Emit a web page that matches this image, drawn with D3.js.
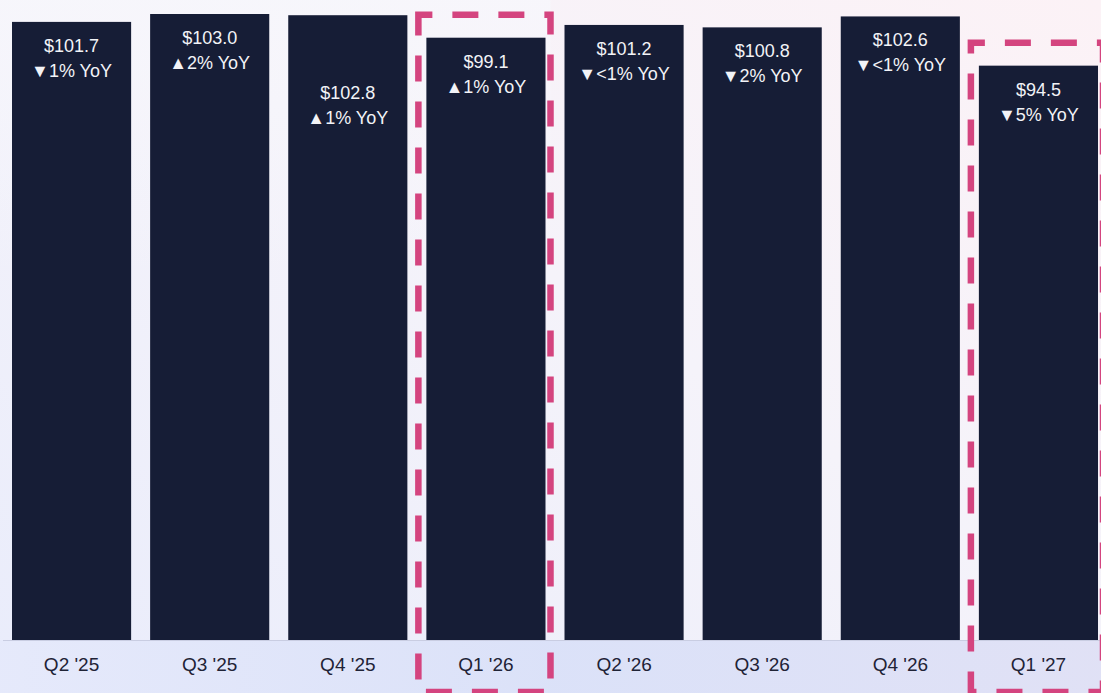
<!DOCTYPE html>
<html>
<head>
<meta charset="utf-8">
<script src="https://cdn.jsdelivr.net/npm/d3@7"></script>
<style>
  html, body { margin: 0; padding: 0; overflow: hidden; }
  svg { display: block; }
</style>
</head>
<body>
<script>
const quarters = ["Q2 '25", "Q3 '25", "Q4 '25", "Q1 '26", "Q2 '26", "Q3 '26", "Q4 '26", "Q1 '27"];
const revenue = [101.7, 103.0, 102.8, 99.1, 101.2, 100.8, 102.6, 94.5];
const yoyLabels = ["▼1% YoY", "▲2% YoY", "▲1% YoY", "▲1% YoY", "▼<1% YoY", "▼2% YoY", "▼<1% YoY", "▼5% YoY"];
const highlighted = ["Q1 '26", "Q1 '27"];

const W = 1101, H = 693;
const data = quarters.map((q, i) => ({ q, v: revenue[i], yoy: yoyLabels[i] }));

const svg = d3.select("body").append("svg").attr("width", W).attr("height", H);
const defs = svg.append("defs");

const bg = defs.append("linearGradient").attr("id", "bg")
  .attr("x1", "100%").attr("y1", "0%").attr("x2", "0%").attr("y2", "100%");
bg.append("stop").attr("offset", "0%").attr("stop-color", "#fcf2f6");
bg.append("stop").attr("offset", "45%").attr("stop-color", "#f5f3fa");
bg.append("stop").attr("offset", "100%").attr("stop-color", "#e9ecfb");

const bg2 = defs.append("linearGradient").attr("id", "bg2")
  .attr("x1", "0%").attr("y1", "0%").attr("x2", "0%").attr("y2", "100%");
bg2.append("stop").attr("offset", "0%").attr("stop-color", "#f7f7fc").attr("stop-opacity", 0.8);
bg2.append("stop").attr("offset", "100%").attr("stop-color", "#f7f7fc").attr("stop-opacity", 0);

const strip = defs.append("linearGradient").attr("id", "strip")
  .attr("x1", "0%").attr("y1", "0%").attr("x2", "100%").attr("y2", "0%");
strip.append("stop").attr("offset", "0%").attr("stop-color", "#e5e9fb");
strip.append("stop").attr("offset", "50%").attr("stop-color", "#d9e0f8");
strip.append("stop").attr("offset", "100%").attr("stop-color", "#dedff5");

svg.append("rect").attr("width", W).attr("height", H).attr("fill", "url(#bg)");
svg.append("rect").attr("width", W * 0.5).attr("height", H * 0.4).attr("fill", "url(#bg2)");

const baseY = 640;
const x = d3.scaleBand().domain(quarters).range([12, 1098]).paddingInner(0.1376).paddingOuter(0);
const y = d3.scaleLinear().domain([0, 103]).range([baseY, 14]);

// bottom strip
svg.append("rect").attr("x", 0).attr("y", baseY).attr("width", W).attr("height", H - baseY)
  .attr("fill", "url(#strip)").attr("opacity", 0.9);

// baseline
svg.append("line").attr("x1", 3).attr("x2", W).attr("y1", baseY + 0.5).attr("y2", baseY + 0.5)
  .attr("stroke", "#c9cde2").attr("stroke-width", 1.2);

// bars
svg.append("g").selectAll("rect").data(data).join("rect")
  .attr("x", d => x(d.q)).attr("y", d => y(d.v))
  .attr("width", x.bandwidth()).attr("height", d => y(0) - y(d.v))
  .attr("fill", "#161d36");

// value labels
const lbl = svg.append("g").attr("font-family", "'Liberation Sans', Arial, sans-serif")
  .attr("font-size", 18).attr("fill", "#f2f3f7").attr("text-anchor", "middle");
data.forEach(d => {
  const drop = d.q === "Q4 '25" ? 54 : 0;
  const cx = x(d.q) + x.bandwidth() / 2;
  const top = y(d.v) + drop;
  lbl.append("text").attr("x", cx).attr("y", top + 30).text("$" + d.v.toFixed(1));
  lbl.append("text").attr("x", cx).attr("y", top + 55).text(d.yoy);
});

// x axis labels
const xAxis = d3.axisBottom(x).tickSize(0).tickPadding(0);
const ax = svg.append("g").attr("transform", `translate(0,${baseY})`).call(xAxis);
ax.select(".domain").remove();
ax.selectAll("text").attr("font-family", "'Liberation Sans', Arial, sans-serif")
  .attr("font-size", 19).attr("fill", "#1f2336").attr("dy", 0).attr("y", 31);

// dashed highlight boxes
svg.append("g").selectAll("path").data(data.filter(d => highlighted.includes(d.q))).join("path")
  .attr("d", d => {
    const x0 = x(d.q) - 8, x1 = x(d.q) + x.bandwidth() + 5;
    const y0 = y(d.v) - 23, y1 = 692;
    return `M${x0},${y0}H${x1}V${y1}H${x0}Z`;
  })
  .attr("fill", "none").attr("stroke", "#d4447f").attr("stroke-width", 6.5)
  .attr("stroke-dasharray", "26,20").attr("stroke-dashoffset", 12);
</script>
</body>
</html>
